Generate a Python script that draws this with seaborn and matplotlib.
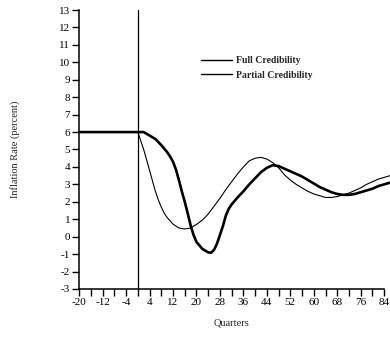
import numpy as np
import pandas as pd
import matplotlib
matplotlib.use("Agg")
import matplotlib.pyplot as plt
import seaborn as sns
from matplotlib.lines import Line2D

# Quarters relative to the policy change and the simulated inflation paths
full_q = [-20, -10, 0, 1, 2, 3, 4, 5, 6, 7, 8, 9, 10, 12, 14, 16, 18, 20, 22, 24,
          26, 28, 30, 32, 34, 36, 38, 40, 42, 44, 46, 48, 50, 52, 54, 56, 58, 60,
          62, 64, 66, 68, 70, 72, 74, 76, 78, 80, 82, 84, 86, 87]
full_infl = [6, 6, 6, 5.5, 5.0, 4.4, 3.8, 3.2, 2.6, 2.1, 1.7, 1.35, 1.1, 0.72, 0.5,
             0.44, 0.5, 0.7, 0.95, 1.3, 1.75, 2.2, 2.7, 3.15, 3.6, 4.0, 4.35, 4.5,
             4.55, 4.45, 4.25, 3.95, 3.55, 3.25, 3.0, 2.8, 2.6, 2.45, 2.35, 2.25,
             2.25, 2.3, 2.4, 2.5, 2.65, 2.8, 3.0, 3.15, 3.3, 3.4, 3.5, 3.55]

partial_q = [-20, -10, 0, 2, 3, 4, 6, 8, 10, 11, 12, 13, 14, 15, 16, 17, 18, 19, 20,
             22, 24, 25, 26, 27, 28, 29, 30, 31, 32, 34, 36, 38, 40, 42, 44, 46, 48,
             50, 52, 54, 56, 58, 60, 62, 64, 66, 68, 70, 72, 74, 76, 78, 80, 82, 84,
             86, 87]
partial_infl = [6, 6, 6, 6, 5.9, 5.8, 5.6, 5.25, 4.85, 4.6, 4.3, 3.85, 3.25, 2.6,
                2.0, 1.35, 0.65, 0.1, -0.3, -0.7, -0.9, -0.92, -0.75, -0.4, 0.1, 0.6,
                1.2, 1.6, 1.85, 2.25, 2.6, 3.0, 3.35, 3.7, 3.95, 4.1, 4.05, 3.9, 3.75,
                3.6, 3.45, 3.25, 3.05, 2.85, 2.7, 2.55, 2.45, 2.4, 2.4, 2.45, 2.55,
                2.65, 2.75, 2.9, 3.0, 3.1, 3.15]

series_names = ["Full Credibility", "Partial Credibility"]
x_ticks = list(range(-20, 85, 4))
x_labels = [str(t) if (t + 20) % 8 == 0 else "" for t in x_ticks]
y_ticks = list(range(-3, 14))

sns.set_style("ticks")
plt.rcParams["font.family"] = ["Liberation Serif", "DejaVu Serif"]
plt.rcParams["axes.unicode_minus"] = False

fig = plt.figure(figsize=(3.9, 3.39), dpi=100)
ax = fig.add_axes([0.203, 0.1475, 0.782, 0.823])

df_full = pd.DataFrame({"q": full_q, "v": full_infl})
df_part = pd.DataFrame({"q": partial_q, "v": partial_infl})
sns.lineplot(data=df_full, x="q", y="v", ax=ax, color="black", lw=0.8,
             clip_on=False)
sns.lineplot(data=df_part, x="q", y="v", ax=ax, color="black", lw=1.9,
             clip_on=False)

ax.axvline(0, color="black", lw=0.9)

ax.set_xlim(-20, 84)
ax.set_ylim(-3, 13)
ax.set_xticks(x_ticks)
ax.set_xticklabels(x_labels)
ax.set_yticks(y_ticks)
ax.tick_params(axis="both", direction="out", length=5, width=1.0,
               labelsize=8, pad=1.5, colors="black")
for side in ("top", "right"):
    ax.spines[side].set_visible(False)
for side in ("left", "bottom"):
    ax.spines[side].set_linewidth(1.1)
    ax.spines[side].set_color("black")

ax.set_xlabel("Quarters", fontsize=7.5, labelpad=8)
ax.set_ylabel("Inflation Rate (percent)", fontsize=7.5, labelpad=28)

handles = [Line2D([], [], color="black", lw=1.0),
           Line2D([], [], color="black", lw=1.0)]
leg = ax.legend(handles, series_names, loc="upper left",
                bbox_to_anchor=(0.37, 0.865), frameon=False, fontsize=7,
                handlelength=3.2, handletextpad=0.4, labelspacing=0.55)
for t in leg.get_texts():
    t.set_fontweight("bold")

fig.savefig("out.png", dpi=100)
